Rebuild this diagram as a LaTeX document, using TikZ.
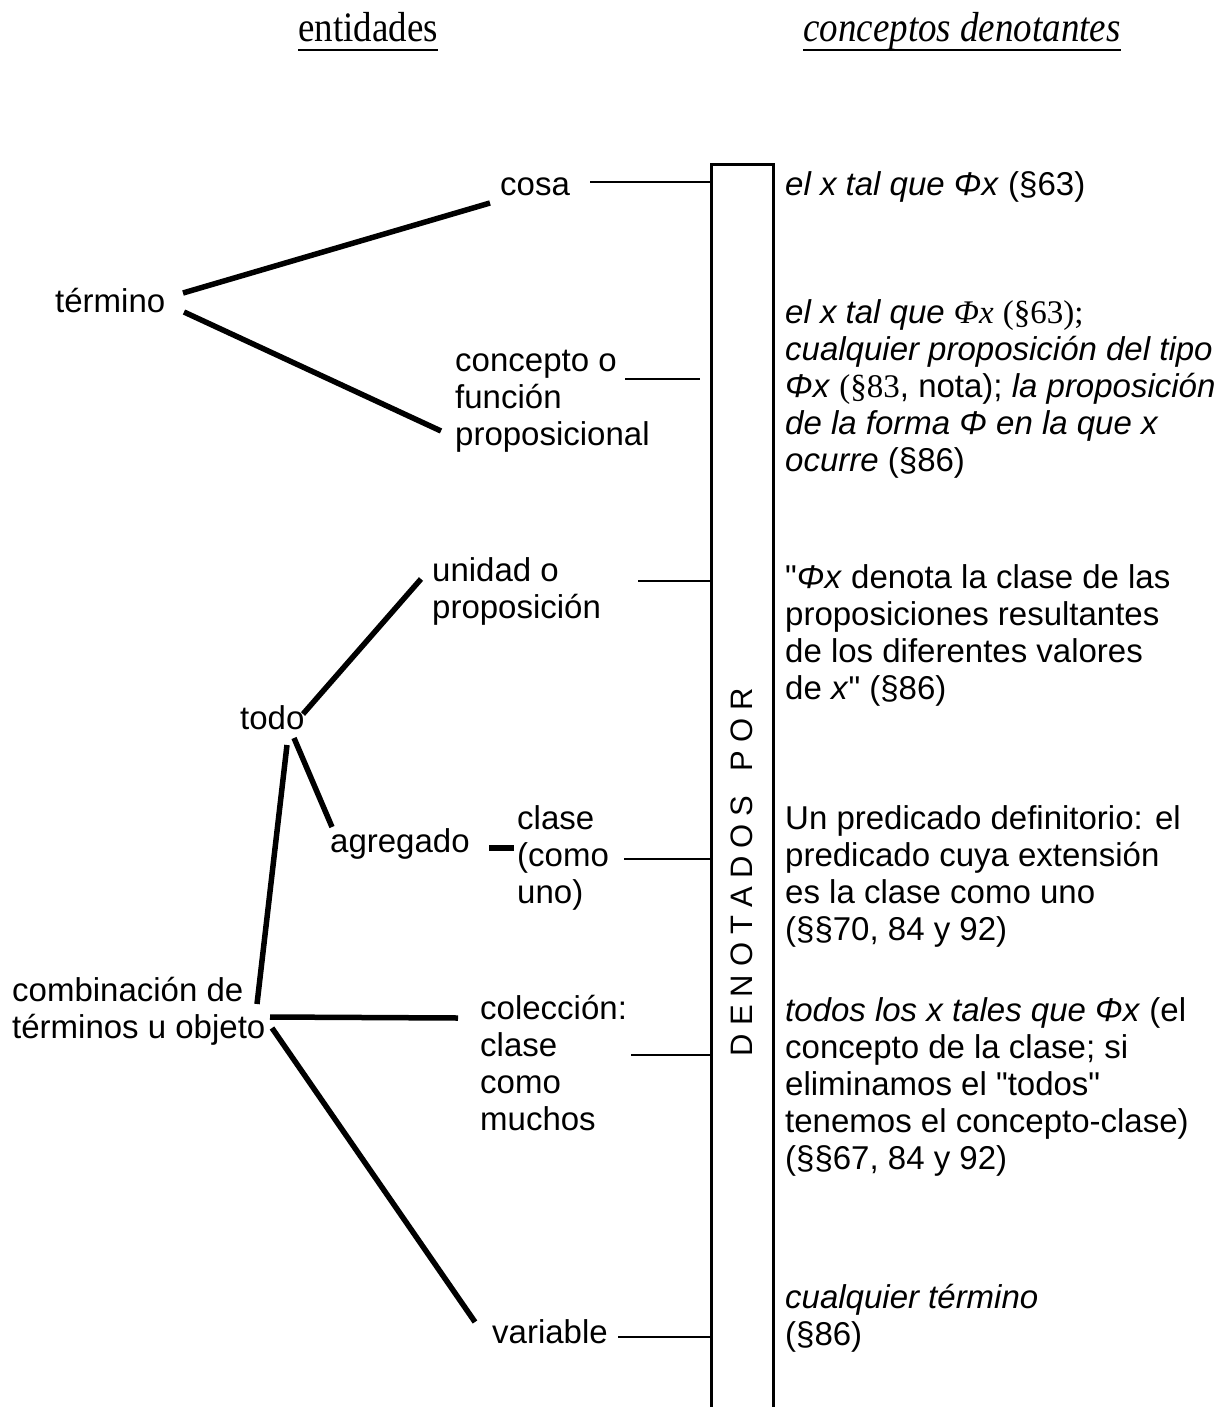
\documentclass[tikz,border=0pt]{standalone}
\usepackage{fontspec}
\setmainfont{Liberation Sans}[Ligatures=TeXOff]
\newfontfamily\tserif{Liberation Serif}
\usepackage{graphicx}
\usetikzlibrary{calc}
\newcommand{\mlines}[1]{\begin{tabular}[t]{@{}l@{}}#1\end{tabular}}
\begin{document}
\begin{tikzpicture}[x=1pt,y=-1pt,
  lbl/.style={inner sep=0pt, anchor=base west, font=\fontsize{33}{37}\selectfont},
  ttl/.style={inner sep=0pt, anchor=base, font=\tserif\fontsize{42}{46}\selectfont},
  tree/.style={line width=5.5pt},
  conn/.style={line width=2.6pt},
  barline/.style={line width=3pt},
  uline/.style={line width=2.6pt}]
\useasboundingbox (0,0) rectangle (1219,1407);

% titles
\node[ttl] (t1) at (368,42) {\scalebox{0.88}[1]{entidades}};
\node[ttl] (t2) at (962,42) {\scalebox{0.88}[1]{\itshape conceptos denotantes}};
\draw[uline] ($(t1.base west)+(0,8)$) -- ($(t1.base east)+(0,8)$);
\draw[uline] ($(t2.base west)+(0,8)$) -- ($(t2.base east)+(0,8)$);

% bar
\coordinate (bBL) at (711,1407);
\coordinate (bTL) at (711,165);
\coordinate (bTR) at (773,165);
\coordinate (bBR) at (773,1407);
\draw[barline] (bBL) -- (bTL) -- (bTR) -- (bBR);
\node[rotate=90, inner sep=0pt, font=\fontsize{31}{36}\selectfont] (den) at (742,872)
 {D\kern8pt E\kern8pt N\kern8pt O\kern8pt T\kern8pt A\kern8pt D\kern8pt O\kern8pt S\kern8pt\ \kern8pt P\kern8pt O\kern8pt R};

% left labels
\node[lbl] (cosa) at (500,196) {cosa};
\node[lbl] (termino) at (55,312) {término};
\node[lbl] (concepto) at (455,371) {\mlines{concepto o\\función\\proposicional}};
\node[lbl] (unidad) at (432,581) {\mlines{unidad o\\proposición}};
\node[lbl] (todo) at (240,729) {todo};
\node[lbl] (agregado) at (330,852) {agregado};
\node[lbl] (clase) at (517,829) {\mlines{clase\\(como\\uno)}};
\node[lbl] (combinacion) at (12,1001) {\mlines{combinación de\\términos u objeto}};
\node[lbl] (coleccion) at (480,1019) {\mlines{colección:\\clase\\como\\muchos}};
\node[lbl] (variable) at (492,1343) {variable};

% right texts
\node[lbl] (r1) at (785,196) {\textit{el x tal que Φx} (§63)};
\node[lbl] (r2) at (785,323) {\mlines{\textit{el x tal que} {\tserif\itshape Φx} {\tserif (§63);}\\
 \textit{cualquier proposición del tipo}\\
 \textit{Φx} {\tserif (§83}, nota); \textit{la proposición}\\
 \textit{de la forma Φ en la que x}\\
 \textit{ocurre} (§86)}};
\node[lbl] (r3) at (785,588) {\mlines{"\textit{Φx} denota la clase de las\\
 proposiciones resultantes\\
 de los diferentes valores\\
 de \textit{x}" (§86)}};
\node[lbl] (r4) at (785,829) {\mlines{Un predicado definitorio: el\\
 predicado cuya extensión\\
 es la clase como uno\\
 (§§70, 84 y 92)}};
\node[lbl] (r5) at (785,1021) {\mlines{\textit{todos los x tales que Φx} (el\\
 concepto de la clase; si\\
 eliminamos el "todos"\\
 tenemos el concepto-clase)\\
 (§§67, 84 y 92)}};
\node[lbl] (r6) at (785,1308) {\mlines{\textit{cualquier término}\\(§86)}};

% tree connector end points
\coordinate (tA) at (183,293);
\coordinate (tB) at (490,203);
\coordinate (tC) at (184,312);
\coordinate (tD) at (441,431);
\coordinate (oA) at (303,714);
\coordinate (oB) at (421,579);
\coordinate (oC) at (294,738);
\coordinate (oD) at (332,827);
\coordinate (oE) at (287,745);
\coordinate (oF) at (257,1004);
\coordinate (gA) at (489,848);
\coordinate (gB) at (514,848);
\coordinate (cA) at (270,1017);
\coordinate (cB) at (458,1018);
\coordinate (cC) at (272,1028);
\coordinate (cD) at (475,1322);

\draw[tree] (tA) -- (tB);
\draw[tree] (tC) -- (tD);
\draw[tree] (oA) -- (oB);
\draw[tree] (oC) -- (oD);
\draw[tree] (oE) -- (oF);
\draw[tree] (gA) -- (gB);
\draw[tree] (cA) -- (cB);
\draw[tree] (cC) -- (cD);

% connectors to the bar
\coordinate (k1) at (590,182);
\coordinate (k1e) at (711,182);
\coordinate (k2) at (625,379);
\coordinate (k2e) at (700,379);
\coordinate (k3) at (638,581);
\coordinate (k3e) at (711,581);
\coordinate (k4) at (624,859);
\coordinate (k4e) at (711,859);
\coordinate (k5) at (631,1055);
\coordinate (k5e) at (711,1055);
\coordinate (k6) at (618,1337);
\coordinate (k6e) at (711,1337);
\draw[conn] (k1) -- (k1e);
\draw[conn] (k2) -- (k2e);
\draw[conn] (k3) -- (k3e);
\draw[conn] (k4) -- (k4e);
\draw[conn] (k5) -- (k5e);
\draw[conn] (k6) -- (k6e);
\end{tikzpicture}
\end{document}
